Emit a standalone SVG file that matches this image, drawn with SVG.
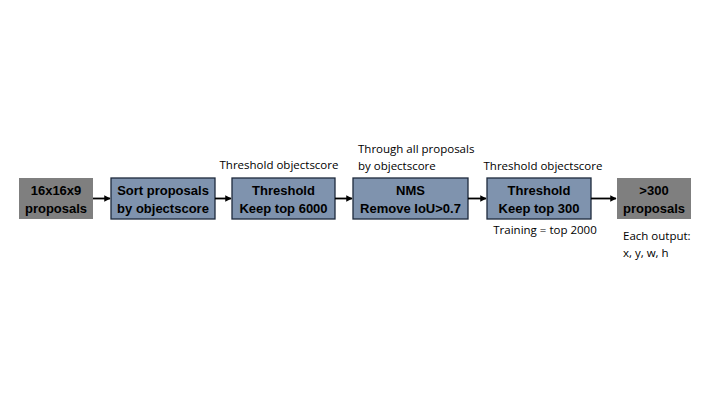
<svg xmlns="http://www.w3.org/2000/svg" width="720" height="405" viewBox="0 0 720 405">
<style>
.g{fill:#7f7f7f}
.b{fill:#7f93ae;stroke:#1e2a3c;stroke-width:1.3}
.t{font-family:"Liberation Sans",Arial,sans-serif;font-weight:bold;font-size:13px;fill:#000;text-anchor:middle}
.l{font-family:"Open Sans","Liberation Sans",sans-serif;font-size:11.5px;fill:#000}
.c{stroke:#000;stroke-width:1.8;fill:none;marker-end:url(#a)}
</style>
<defs><marker id="a" viewBox="0 0 6 6" refX="5.5" refY="3" markerWidth="3.5" markerHeight="3.5" orient="auto"><path d="M0,0L6,3L0,6z" fill="#000"/></marker></defs>
<rect width="720" height="405" fill="#fff"/>
<g id="n1"><rect class="g" x="19" y="178" width="74" height="41"/><text class="t" x="56" y="195">16x16x9</text><text class="t" x="56" y="213">proposals</text></g>
<g id="n2"><rect class="b" x="111" y="178" width="104" height="41"/><text class="t" x="163" y="195">Sort proposals</text><text class="t" x="163" y="213">by objectscore</text></g>
<g id="n3"><rect class="b" x="232" y="178" width="103" height="41"/><text class="t" x="283.5" y="195">Threshold</text><text class="t" x="283.5" y="213">Keep top 6000</text></g>
<g id="n4"><rect class="b" x="353" y="178" width="115" height="41"/><text class="t" x="410.5" y="195">NMS</text><text class="t" x="410.5" y="213">Remove IoU&gt;0.7</text></g>
<g id="n5"><rect class="b" x="487" y="178" width="104" height="41"/><text class="t" x="539" y="195">Threshold</text><text class="t" x="539" y="213">Keep top 300</text></g>
<g id="n6"><rect class="g" x="617" y="178" width="74" height="41"/><text class="t" x="654" y="195">&gt;300</text><text class="t" x="654" y="213">proposals</text></g>
<g id="connectors">
<path class="c" d="M93,198.5H110"/>
<path class="c" d="M215,198.5H231"/>
<path class="c" d="M335,198.5H352"/>
<path class="c" d="M468,198.5H486"/>
<path class="c" d="M591,198.5H616"/>
</g>
<g id="labels">
<text class="l" x="279" y="169" text-anchor="middle">Threshold objectscore</text>
<text class="l" x="358" y="153">Through all proposals</text>
<text class="l" x="358" y="170">by objectscore</text>
<text class="l" x="543" y="170" text-anchor="middle">Threshold objectscore</text>
<text class="l" x="545" y="234" text-anchor="middle">Training = top 2000</text>
<text class="l" x="623" y="240">Each output:</text>
<text class="l" x="623" y="257">x, y, w, h</text>
</g>
</svg>
